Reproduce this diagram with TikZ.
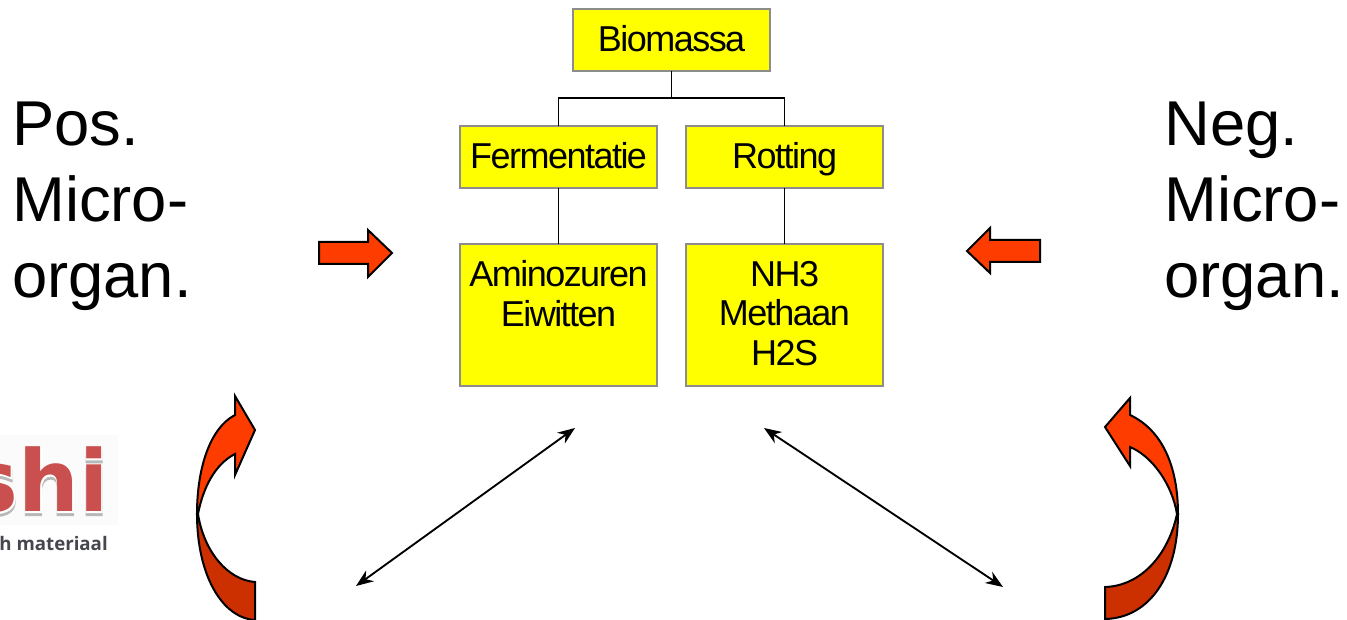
\documentclass[tikz,border=0pt]{standalone}
\usepackage{fontspec}
\usetikzlibrary{arrows.meta}
\setmainfont{Liberation Sans}
\newfontfamily\boxfont[LetterSpace=-4.2]{Liberation Sans}
\newfontfamily\logofont{DejaVu Sans}
\newfontfamily\logohalofont[FakeBold=2.5]{DejaVu Sans Bold}
\newfontfamily\tagfont{Open Sans}
\newcommand\lowstrut{\rule[-3pt]{0pt}{3pt}}
\definecolor{boxgray}{HTML}{8C8C8C}
\definecolor{boxyellow}{HTML}{FFFF00}
\definecolor{arrowred}{HTML}{FF3C00}
\definecolor{arrowdark}{HTML}{CC3000}
\definecolor{logored}{HTML}{C9504E}
\definecolor{logotext}{HTML}{46464F}
\tikzset{
    yellowbox/.style={draw=boxgray,fill=boxyellow,line width=1.5pt,minimum width=148pt,align=center,
        font=\boxfont\fontsize{27}{29.6}\selectfont,inner sep=0pt,outer sep=0pt},
    smallbox/.style={yellowbox,minimum height=46pt,text height=21pt,text depth=3pt},
    tallbox/.style={yellowbox,minimum height=106pt},
    bigtext/.style={anchor=base west,align=left,inner sep=0pt,font=\fontsize{47.5}{57}\selectfont},
    blockarrow/.style={draw=black,line width=1.5pt,line join=miter,fill=arrowred},
    darkarrow/.style={blockarrow,fill=arrowdark},
    link/.style={draw=black,line width=1.4pt},
    doublelink/.style={draw=black,line width=1.4pt,{Stealth[length=13pt,width=10pt]}-{Stealth[length=13pt,width=10pt]}},
    logostyle/.style={anchor=base east,inner sep=0pt,font=\logofont\bfseries\fontsize{64}{64}\selectfont},
    halostyle/.style={anchor=base east,inner sep=0pt,font=\logohalofont\fontsize{64}{64}\selectfont},
}
\begin{document}
\begin{tikzpicture}[x=.75pt,y=-.75pt]
    \useasboundingbox (0,0) rectangle (1347,620);
    \clip (0,0) rectangle (1347,620);
    % logo
    \fill[black!1.5] (0,435) rectangle (118,525);
    \node[halostyle,text=black!28] (logoshadow) at (109,515) {shi};
    \node[halostyle,text=white] (logoedge) at (109,512) {shi};
    \node[logostyle,text=logored] (logo) at (109,512) {shi};
    \node[anchor=base east,inner sep=0pt,text=logotext,font=\tagfont\bfseries\fontsize{14}{16}\selectfont] (logotag) at (108,550) {h materiaal};
    % boxes
    \node[smallbox] (biomassa) at (671.5,40) {Biomassa};
    \node[smallbox] (fermentatie) at (558.5,157) {Fermentatie};
    \node[smallbox] (rotting) at (784.5,157) {Rotting};
    \node[tallbox] (producten) at (558.5,315) {Aminozuren\\Eiwitten\\\mbox{}\lowstrut};
    \node[tallbox] (gassen) at (784.5,315) {NH3\\Methaan\\H2S\lowstrut};
    % tree lines
    \coordinate (split) at (671.5,98);
    \draw[link] (biomassa) -- (split);
    \draw[link] (split) -| (fermentatie);
    \draw[link] (split) -| (rotting);
    \draw[link] (fermentatie) -- (producten);
    \draw[link] (rotting) -- (gassen);
    % side texts
    \node[bigtext] (pos) at (12,298) {Pos.\\Micro-\\organ.};
    \node[bigtext] (neg) at (1164,298) {Neg.\\Micro-\\organ.};
    % straight arrows
    \draw[blockarrow] (319,242) -- (368,242) -- (368,230) -- (392,253) -- (368,277) -- (368,264) -- (319,264) -- cycle;
    \draw[blockarrow] (1040,240) -- (990,240) -- (990,228) -- (967,251) -- (990,273) -- (990,262) -- (1040,262) -- cycle;
    % double arrows
    \coordinate (leftup) at (575,428);
    \coordinate (leftdown) at (356,586);
    \coordinate (rightup) at (764,428);
    \coordinate (rightdown) at (1003,587);
    \draw[doublelink] (leftdown) -- (leftup);
    \draw[doublelink] (rightdown) -- (rightup);
    % curved arrows
    \draw[darkarrow] (198,514) .. controls (204,552) and (228,580) .. (255,582) -- (255,620)
        .. controls (222,618) and (197,575) .. (197,514) -- cycle;
    \draw[blockarrow] (197,514) .. controls (197,468) and (210,428) .. (235,415) -- (235,396) -- (255,430) -- (235,475) -- (235,454)
        .. controls (215,464) and (203,488) .. (198,514) -- cycle;
    \draw[darkarrow] (1177,514) .. controls (1168,556) and (1140,586) .. (1105,587) -- (1105,619)
        .. controls (1150,618) and (1178,575) .. (1178,514) -- cycle;
    \draw[blockarrow] (1178,514) .. controls (1178,466) and (1162,430) .. (1130,415) -- (1130,398) -- (1105,427) -- (1130,466) -- (1130,447)
        .. controls (1152,456) and (1172,484) .. (1177,514) -- cycle;
\end{tikzpicture}
\end{document}
